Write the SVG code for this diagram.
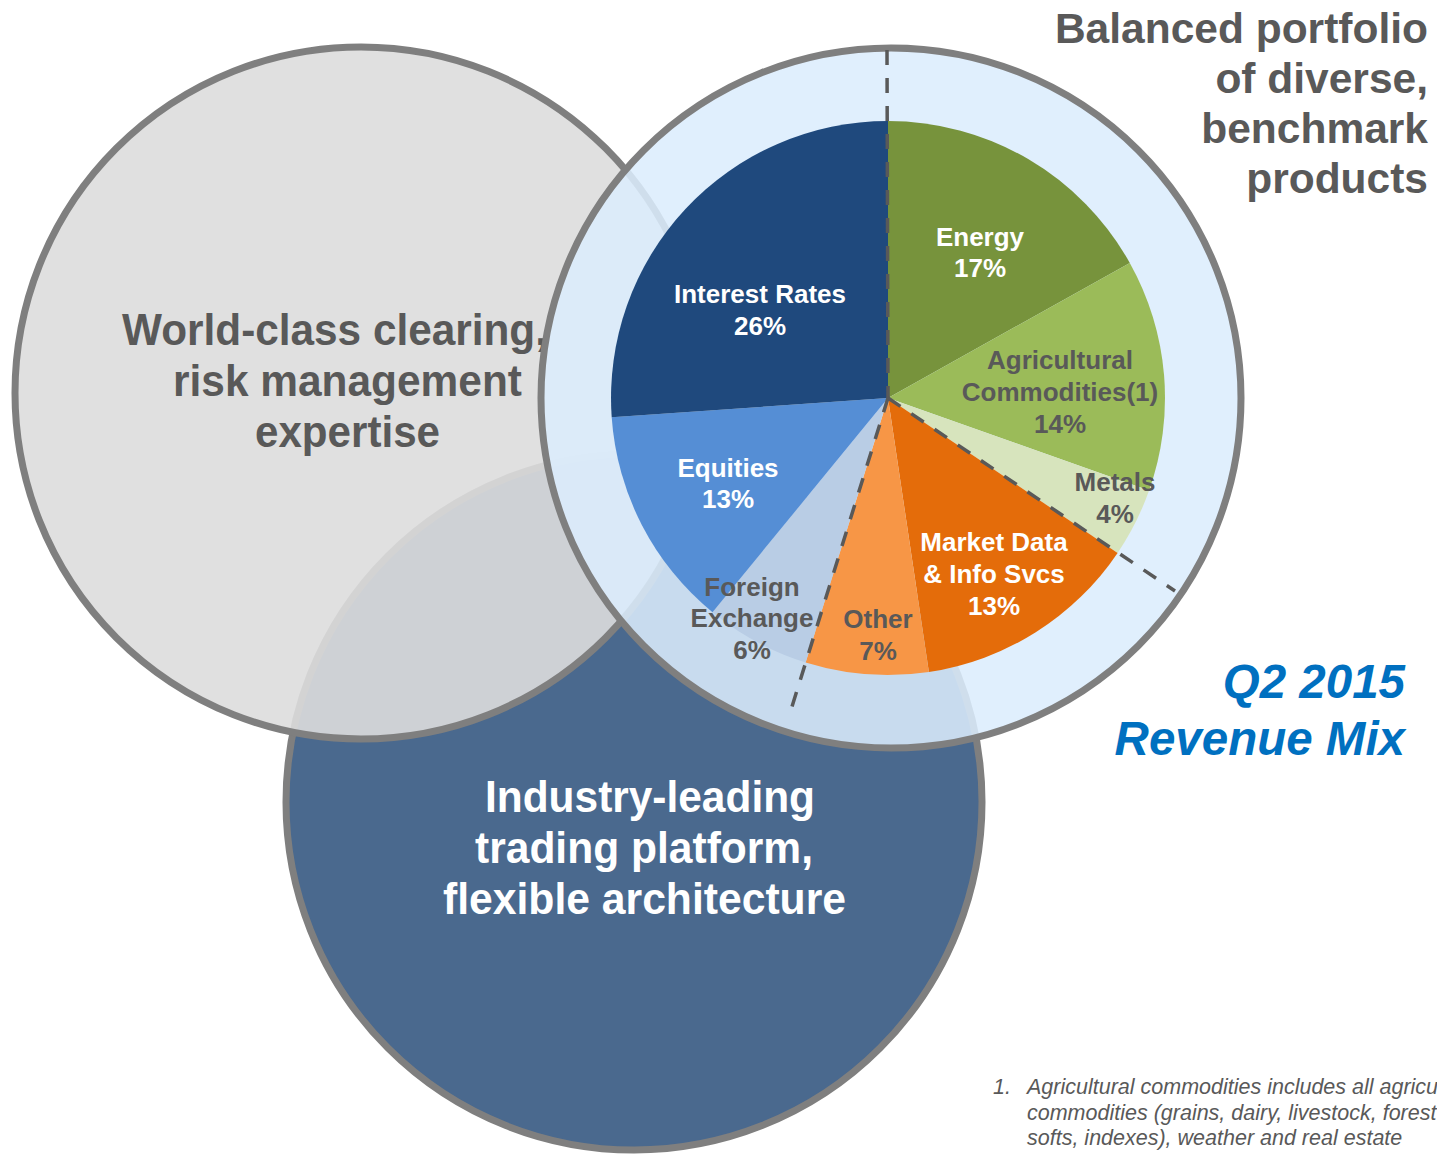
<svg xmlns="http://www.w3.org/2000/svg" width="1437" height="1154" viewBox="0 0 1437 1154">
  <style>
    .big { font-family: "Liberation Sans", Arial, sans-serif; font-weight: bold; font-size: 44px; }
    .title { font-family: "Liberation Sans", Arial, sans-serif; font-weight: bold; font-size: 42.5px; fill: #595959; text-anchor: end; }
    .gray { fill: #595959; }
    .white { fill: #ffffff; }
    .lbl { font-family: "Liberation Sans", Arial, sans-serif; font-weight: bold; font-size: 26px; text-anchor: middle; }
    .ring { stroke: #7f7f7f; stroke-width: 7; }
    .dash { fill: none; stroke: #595959; stroke-width: 3.5; stroke-dasharray: 15 13; }
    .note { font-family: "Liberation Sans", Arial, sans-serif; font-style: italic; font-size: 21.5px; fill: #595959; }
    .mix { font-family: "Liberation Sans", Arial, sans-serif; font-weight: bold; font-style: italic; font-size: 47.5px; fill: #0070c0; text-anchor: end; }
  </style>
  <rect width="1437" height="1154" fill="#ffffff"/>

  <g id="node-trading">
    <circle class="ring" cx="634" cy="802" r="348" fill="#4a698e"/>
    <text class="big white" x="485" y="812" textLength="330" lengthAdjust="spacingAndGlyphs">Industry-leading</text>
    <text class="big white" x="475" y="863" textLength="338" lengthAdjust="spacingAndGlyphs">trading platform,</text>
    <text class="big white" x="443" y="914" textLength="403" lengthAdjust="spacingAndGlyphs">flexible architecture</text>
  </g>

  <g id="node-clearing">
    <circle class="ring" cx="361" cy="393" r="346" fill="#dddddd" fill-opacity="0.9"/>
    <text class="big gray" x="122" y="345" textLength="425" lengthAdjust="spacingAndGlyphs">World-class clearing,</text>
    <text class="big gray" x="173" y="396" textLength="349" lengthAdjust="spacingAndGlyphs">risk management</text>
    <text class="big gray" x="255" y="447" textLength="185" lengthAdjust="spacingAndGlyphs">expertise</text>
  </g>

  <g id="node-portfolio">
    <circle class="ring" cx="891" cy="398" r="350" fill="#dbedfd" fill-opacity="0.87"/>
  </g>

  <g id="pie">
    <path id="slice-energy" d="M888,398 L888,121 A277,277 0 0 1 1129.8,262.9 Z" fill="#77933c"/>
    <path id="slice-ag" d="M888,398 L1129.8,262.9 A277,277 0 0 1 1149.1,490.5 Z" fill="#9bbb59"/>
    <path id="slice-metals" d="M888,398 L1149.1,490.5 A277,277 0 0 1 1117.6,552.9 Z" fill="#d7e4bd"/>
    <path id="slice-market" d="M888,398 L1117.6,552.9 A277,277 0 0 1 928.9,672 Z" fill="#e46c0a"/>
    <path id="slice-other" d="M888,398 L928.9,672 A277,277 0 0 1 805.6,662.5 Z" fill="#f79646"/>
    <path id="slice-fx" d="M888,398 L805.6,662.5 A277,277 0 0 1 712.5,612.3 Z" fill="#b9cde5"/>
    <path id="slice-equities" d="M888,398 L712.5,612.3 A277,277 0 0 1 611.7,417.3 Z" fill="#558ed5"/>
    <path id="slice-ir" d="M888,398 L611.7,417.3 A277,277 0 0 1 888,121 Z" fill="#1f497d"/>
  </g>

  <g id="connectors">
    <path class="dash" d="M887,50 L888,398"/>
    <path class="dash" d="M888,398 L790,713"/>
    <path class="dash" d="M888,398 L1175,591"/>
  </g>

  <g id="pie-labels">
    <text class="lbl white" x="760" y="303">Interest Rates</text>
    <text class="lbl white" x="760" y="335">26%</text>
    <text class="lbl white" x="980" y="246">Energy</text>
    <text class="lbl white" x="980" y="277">17%</text>
    <text class="lbl gray" x="1060" y="369">Agricultural</text>
    <text class="lbl gray" x="1060" y="401">Commodities(1)</text>
    <text class="lbl gray" x="1060" y="433">14%</text>
    <text class="lbl gray" x="1115" y="491">Metals</text>
    <text class="lbl gray" x="1115" y="523">4%</text>
    <text class="lbl white" x="994" y="551">Market Data</text>
    <text class="lbl white" x="994" y="583">&amp; Info Svcs</text>
    <text class="lbl white" x="994" y="615">13%</text>
    <text class="lbl gray" x="878" y="628">Other</text>
    <text class="lbl gray" x="878" y="660">7%</text>
    <text class="lbl gray" x="752" y="596">Foreign</text>
    <text class="lbl gray" x="752" y="627">Exchange</text>
    <text class="lbl gray" x="752" y="659">6%</text>
    <text class="lbl white" x="728" y="477">Equities</text>
    <text class="lbl white" x="728" y="508">13%</text>
  </g>

  <g id="title-portfolio">
    <text class="title" x="1428" y="43">Balanced portfolio</text>
    <text class="title" x="1428" y="93">of diverse,</text>
    <text class="title" x="1428" y="143">benchmark</text>
    <text class="title" x="1428" y="193">products</text>
  </g>

  <g id="title-mix">
    <text class="mix" x="1405" y="698">Q2 2015</text>
    <text class="mix" x="1405" y="755">Revenue Mix</text>
  </g>

  <g id="footnote">
    <text class="note" x="993" y="1094">1.</text>
    <text class="note" x="1027" y="1094">Agricultural commodities includes all agricu</text>
    <text class="note" x="1027" y="1120">commodities (grains, dairy, livestock, forest</text>
    <text class="note" x="1027" y="1145">softs, indexes), weather and real estate</text>
  </g>
</svg>
